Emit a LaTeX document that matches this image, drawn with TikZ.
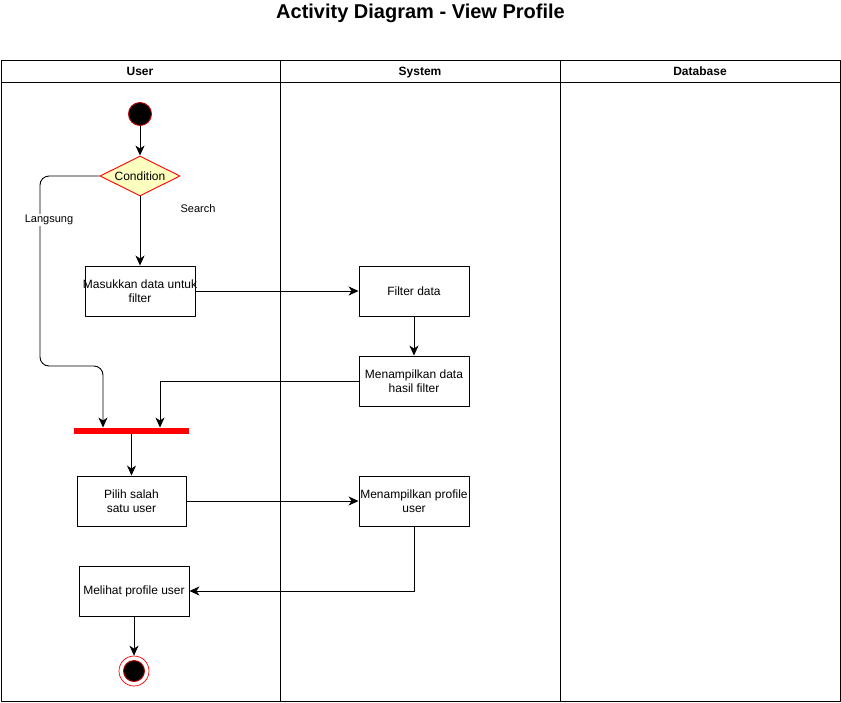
\documentclass[tikz,border=0pt]{standalone}
\usepackage{fontspec}
\setmainfont{Liberation Sans}
\usetikzlibrary{shapes.geometric,positioning,arrows.meta}
\begin{document}
\begin{tikzpicture}[x=1pt,y=-1pt,>={Stealth[length=10pt,width=9pt,inset=3pt]}, line width=0.9pt, line join=round,
	font=\fontsize{12}{14}\selectfont,
	aksi/.style={draw, minimum width=110pt, minimum height=50pt, align=center, inner sep=1pt},
	lajur/.style={font=\fontsize{12}{14}\selectfont\bfseries, text height=9pt, text depth=2.5pt},
	ket/.style={font=\fontsize{11}{13}\selectfont, inner sep=1pt}]
\def\W{841} \def\H{702} % ukuran gambar
\def\top{60} \def\kepala{82} \def\bawah{701}
\useasboundingbox (0,0) rectangle (\W,\H);
% judul
\node[font=\fontsize{20}{24}\selectfont\bfseries] (judul) at (420.5,13) {Activity Diagram - View Profile};
% swimlane
\draw (1,\top) rectangle (840,\bawah);
\draw (1,\kepala)--(840,\kepala);
\draw (280,\top)--(280,\bawah);
\draw (560,\top)--(560,\bawah);
\node[lajur] (user) at (140,72) {User};
\node[lajur] (system) at (420,72) {System};
\node[lajur] (database) at (700,72) {Database};
% simpul
\node[circle, fill=black, draw=red!75!black, minimum size=23pt] (start) at (140,114) {};
\node[diamond, aspect=2, draw=red, fill={rgb,255:red,255;green,255;blue,192}, minimum width=80pt, minimum height=40pt, inner sep=0pt] (cond) at (140,176) {Condition};
\node[aksi, inner xsep=-3pt] (masuk) at (140,291) {Masukkan data untuk\\filter};
\node[aksi] (filter) at (414,291) {Filter data};
\node[aksi] (tampil) at (414,381) {Menampilkan data\\hasil filter};
\node[fill=red, minimum width=115pt, minimum height=6pt, inner sep=0pt] (bar) at (131.5,431) {};
\node[aksi, minimum width=109pt] (pilih) at (131.5,501) {Pilih salah\\satu user};
\node[aksi] (profil) at (414,501) {Menampilkan profile\\user};
\node[aksi] (lihat) at (134,591) {Melihat profile user};
\node[circle, draw=red, fill=white, line width=0.7pt, minimum size=30pt] (stop) at (134,671) {};
\node[circle, fill=black, draw=red!75!black, minimum size=21pt] (stopdalam) at (stop) {};
% alur
\coordinate (belok) at (103,366);
\draw[->] (start)--(cond);
\draw[->] (cond)--(masuk);
\draw[->, rounded corners=9pt] (cond.west)--(40,176)--(40,366)--(belok)--(belok |- bar.north);
\node[ket, fill=white] (langsung) at (49,220) {Langsung};
\node[ket] (search) at (198,209) {Search};
\draw[->] (masuk)--(filter);
\draw[->] (filter)--(tampil);
\draw[->] (tampil.west) -| ([xshift=28.5pt]bar.north);
\draw[->] (bar.south)--(pilih);
\draw[->] (pilih)--(profil);
\draw[->] (profil.south) |- (lihat.east);
\draw[->] (lihat)--(stop);
\end{tikzpicture}
\end{document}
